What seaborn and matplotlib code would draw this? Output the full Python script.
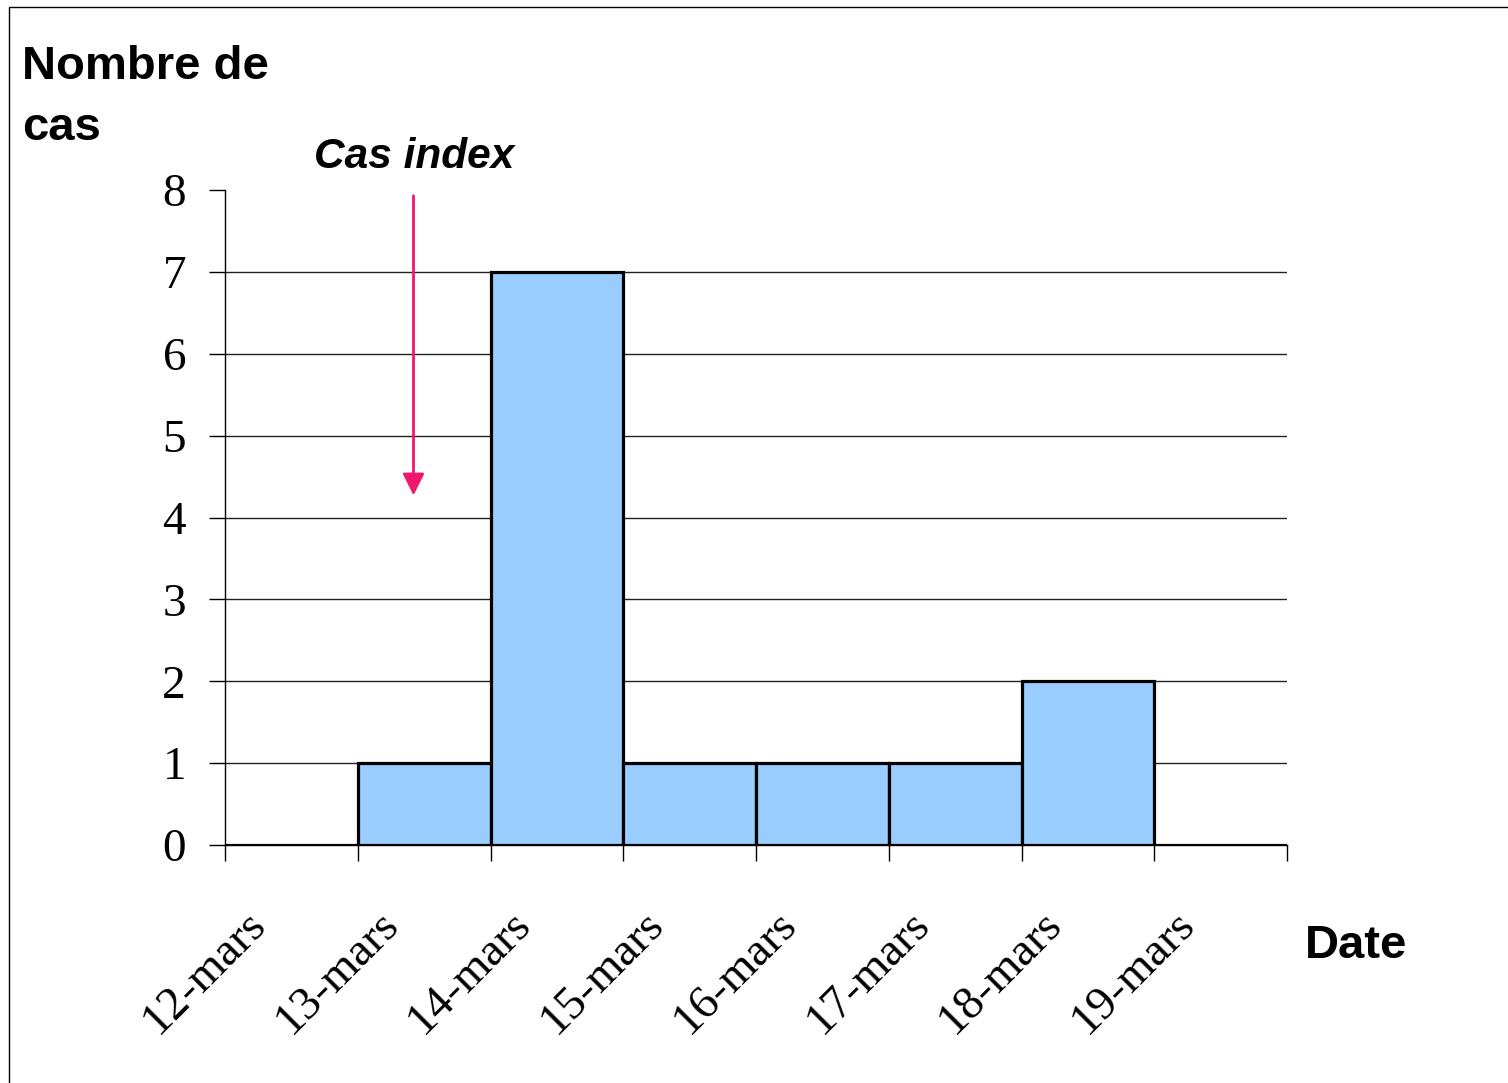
import matplotlib
matplotlib.use("Agg")
import matplotlib.pyplot as plt
import matplotlib.transforms as mtransforms
from matplotlib.patches import Rectangle
import seaborn as sns
import pandas as pd

dates = ["12-mars", "13-mars", "14-mars", "15-mars", "16-mars", "17-mars", "18-mars", "19-mars"]
cases = [0, 1, 7, 1, 1, 1, 2, 0]
y_ticks = [0, 1, 2, 3, 4, 5, 6, 7, 8]
ylabel_text = "Nombre de\ncas"
xlabel_text = "Date"
annot_text = "Cas index"
arrow_start = (0.92, 7.93)
arrow_end = (0.92, 4.27)

sns.set_theme(style="white")
plt.rcParams["font.family"] = ["Liberation Serif", "DejaVu Serif"]
plt.rcParams["text.color"] = "black"
plt.rcParams["xtick.color"] = "black"
plt.rcParams["ytick.color"] = "black"

df = pd.DataFrame({"date": dates, "cas": cases})

fig = plt.figure(figsize=(15.08, 10.83), dpi=100)
ax = fig.add_axes([225 / 1508, 1 - 845 / 1083, (1287 - 225) / 1508, (845 - 190) / 1083])

sns.barplot(data=df, x="date", y="cas", ax=ax, color="#99CCFF", saturation=1,
            width=1.0, edgecolor="black", linewidth=2.3, zorder=3)

ax.set_xlim(-0.5, len(dates) - 0.5)
ax.set_ylim(0, 8)
ax.set_yticks(y_ticks)
ax.set_yticklabels([str(v) for v in y_ticks], fontsize=34)
for v in y_ticks[1:-1]:
    ax.axhline(v, color="#222222", lw=1.0, zorder=1)

ax.set_xticks(range(len(dates)))
ax.set_xticklabels(dates, fontsize=34, rotation=45, ha="right", va="center",
                   rotation_mode="anchor")
ax.set_xticks([i - 0.5 for i in range(len(dates) + 1)], minor=True)
ax.tick_params(axis="x", which="major", bottom=True, length=0, pad=52)
ax.tick_params(axis="x", which="minor", bottom=True, length=11.5, width=1,
               color="black", direction="out")
ax.tick_params(axis="y", which="major", left=True, length=11.5, width=1,
               color="black", direction="out", pad=16.5)
offset = mtransforms.ScaledTranslation(-32 / 100, 0, fig.dpi_scale_trans)
for lab in ax.get_xticklabels():
    lab.set_transform(lab.get_transform() + offset)

for s in ["top", "right"]:
    ax.spines[s].set_visible(False)
for s in ["left", "bottom"]:
    ax.spines[s].set_color("black")
    ax.spines[s].set_linewidth(1.0)

ax.set_xlabel("")
ax.set_ylabel("")

sans = ["Liberation Sans", "DejaVu Sans"]
fig.text(22 / 1508, 1 - 45 / 1083, ylabel_text, fontsize=34, fontweight="bold",
         family=sans, ha="left", va="top", linespacing=1.5, color="black")
fig.text(1305 / 1508, 1 - 946 / 1083, xlabel_text, fontsize=34, fontweight="bold",
         family=sans, ha="left", va="center", color="black")
fig.text(414 / 1508, 1 - 157 / 1083, annot_text, fontsize=30.5, fontweight="bold",
         fontstyle="italic", family=sans, ha="center", va="center", color="black")

ax.annotate("", xy=arrow_end, xytext=arrow_start, xycoords="data",
            arrowprops=dict(arrowstyle="-|>,head_length=1.1,head_width=0.55",
                            color="#F0186E", lw=2, shrinkA=0, shrinkB=0),
            annotation_clip=False, zorder=5)

fig.patches.append(Rectangle((9 / 1508, -0.05), 1.2, 1 - 7 / 1083 + 0.05,
                             transform=fig.transFigure, fill=False,
                             edgecolor="black", lw=1.0))

fig.savefig("out.png", dpi=100)
